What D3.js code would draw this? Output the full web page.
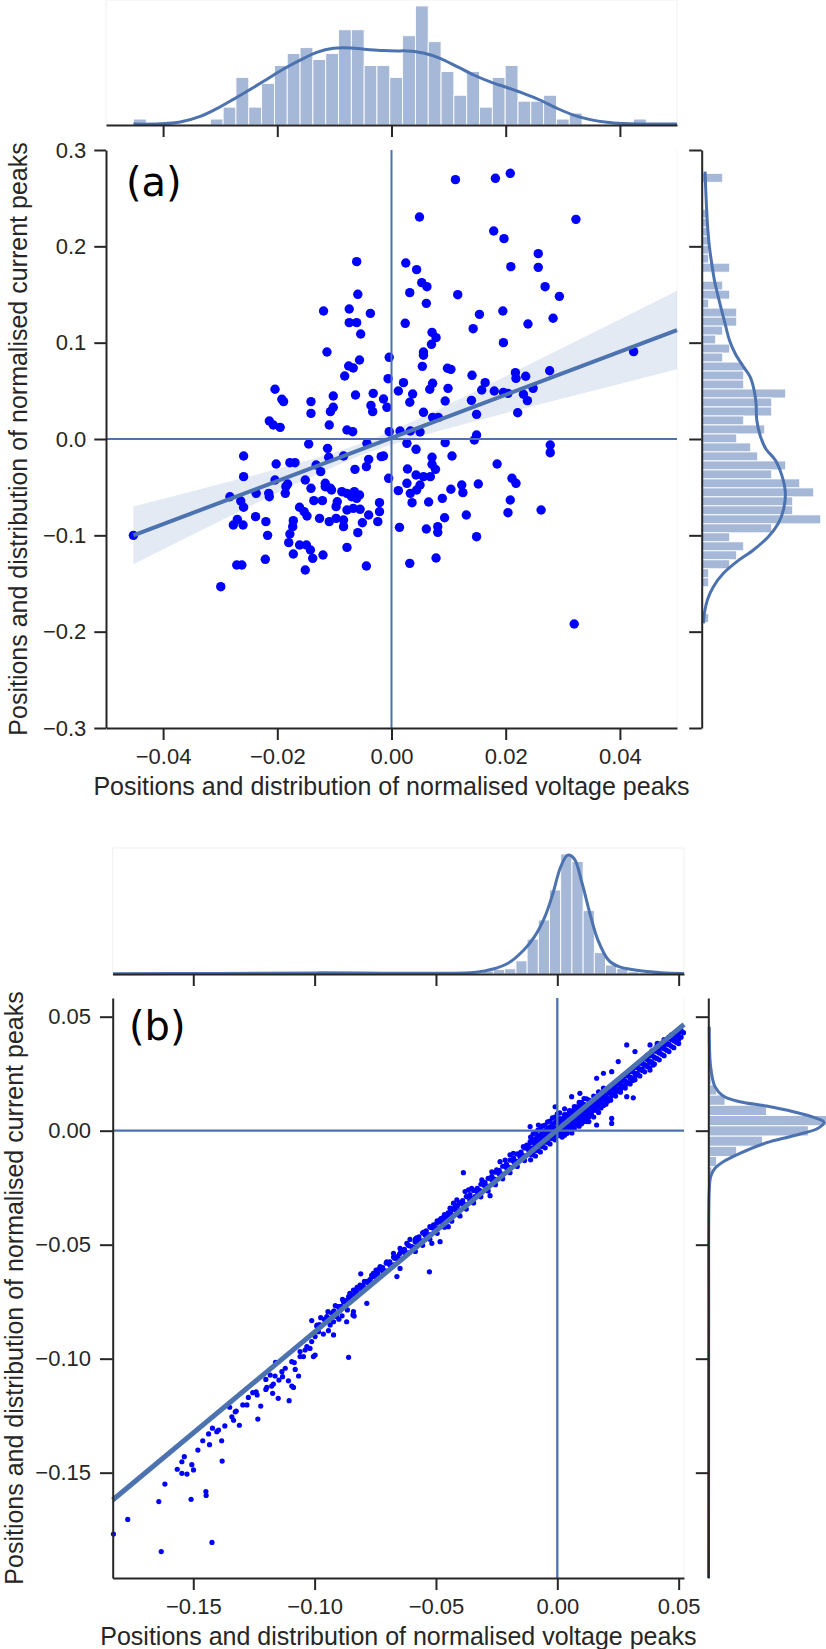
<!DOCTYPE html>
<html><head><meta charset="utf-8">
<script src="https://cdn.jsdelivr.net/npm/d3@7"></script>
<style>
body{margin:0;background:#fff;}
svg{display:block;}
</style></head><body>
<svg id="chart" width="826" height="1649"></svg>
<script>
// ===================== DATA: panel (a) =====================
const aXDomain = [-0.05, 0.05];
const aYDomain = [-0.3, 0.3];
const aXTicks = [-0.04, -0.02, 0.00, 0.02, 0.04];
const aYTicks = [-0.3, -0.2, -0.1, 0.0, 0.1, 0.2, 0.3];
const aPoints = [
 [-0.0061,0.1841],[-0.0059,0.1502],[-0.0119,0.1329],[-0.0074,0.1349],[-0.0037,0.1304],[-0.0074,0.1208],[-0.0061,0.1208],[-0.0054,0.1090],[-0.0113,0.0903],[-0.0004,0.0848],[-0.0056,0.0820],[-0.0075,0.0758],[-0.0067,0.0737],[-0.0082,0.0654],[-0.0006,0.0626],[-0.0204,0.0516],[-0.0192,0.0412],[-0.0189,0.0388],[-0.0141,0.0388],[-0.0102,0.0446],[-0.0063,0.0457],[-0.0032,0.0474],[-0.0014,0.0415],[-0.0008,0.0329],[-0.0141,0.0266],[-0.0107,0.0284],[-0.0102,0.0329],[-0.0036,0.0349],[-0.0033,0.0284],[-0.0214,0.0187],[-0.0207,0.0145],[-0.0195,0.0121],[-0.0109,0.0145],[-0.0078,0.0093],[-0.0068,0.0076],[-0.0004,0.0076],
 [0.0208,0.2758],[0.0182,0.2706],[0.0112,0.2692],[0.0049,0.2304],[0.0323,0.2280],[0.0179,0.2159],[0.0197,0.2080],[0.0257,0.1924],[0.0025,0.1827],[0.0044,0.1758],[0.0209,0.1789],[0.0257,0.1782],[0.0053,0.1623],[0.0062,0.1581],[0.0269,0.1581],[0.0032,0.1519],[0.0116,0.1498],[0.0294,0.1481],[0.0061,0.1408],[0.0154,0.1294],[0.0195,0.1329],[0.0024,0.1201],[0.0143,0.1145],[0.0239,0.1194],[0.0283,0.1253],[0.0071,0.1107],[0.0078,0.1052],[0.0070,0.0983],[0.0196,0.1000],[0.0056,0.0903],[0.0056,0.0869],[0.0054,0.0754],[0.0098,0.0734],[0.0104,0.0723],[0.0424,0.0907],[0.0141,0.0661],[0.0217,0.0689],[0.0218,0.0630],[0.0235,0.0651],[0.0277,0.0709],[0.0021,0.0585],[0.0072,0.0578],[0.0067,0.0516],[0.0099,0.0526],[0.0012,0.0498],[0.0037,0.0467],[0.0164,0.0585],[0.0158,0.0509],[0.0180,0.0498],[0.0196,0.0484],[0.0204,0.0474],[0.0231,0.0464],[0.0248,0.0526],[0.0032,0.0381],[0.0094,0.0394],[0.0140,0.0401],[0.0238,0.0398],[0.0056,0.0277],[0.0072,0.0225],[0.0082,0.0225],[0.0149,0.0256],[0.0221,0.0273],
 [0.0015,0.0083],[0.0033,0.0083],[0.0050,0.0073],[0.0149,0.0042],[0.0145,-0.0010],[0.0094,-0.0038],[0.0027,-0.0045],[0.0043,-0.0107],[0.0278,-0.0062],[0.0278,-0.0142],[0.0106,-0.0176],[0.0071,-0.0190],[0.0071,-0.0263],[0.0077,-0.0315],[0.0185,-0.0260],[0.0028,-0.0311],[0.0043,-0.0374],[0.0056,-0.0391],[0.0068,-0.0391],[0.0211,-0.0408],[0.0218,-0.0460],[0.0123,-0.0478],[0.0152,-0.0467],[0.0027,-0.0460],[0.0050,-0.0478],[0.0012,-0.0536],[0.0104,-0.0522],[0.0125,-0.0557],[0.0033,-0.0564],[0.0044,-0.0529],[0.0208,-0.0633],[0.0065,-0.0654],[0.0089,-0.0616],[0.0036,-0.0661],[0.0262,-0.0737],[0.0204,-0.0765],[0.0131,-0.0789],[0.0093,-0.0817],[0.0014,-0.0917],[0.0061,-0.0934],[0.0081,-0.0910],[0.0081,-0.0969],[0.0149,-0.1014],[0.0032,-0.1291],[0.0078,-0.1235],[0.0320,-0.1920],
 [-0.0145,-0.0052],[-0.0112,-0.0097],[-0.0043,-0.0045],[-0.0259,-0.0176],[-0.0110,-0.0190],[-0.0084,-0.0176],[-0.0040,-0.0211],[-0.0018,-0.0183],[-0.0014,-0.0176],[-0.0202,-0.0260],[-0.0178,-0.0246],[-0.0169,-0.0246],[-0.0132,-0.0270],[-0.0124,-0.0339],[-0.0044,-0.0287],[-0.0064,-0.0315],[-0.0259,-0.0391],[-0.0204,-0.0426],[-0.0182,-0.0467],[-0.0151,-0.0426],[-0.0141,-0.0512],[-0.0116,-0.0460],[-0.0107,-0.0512],[-0.0005,-0.0408],[-0.0283,-0.0599],[-0.0264,-0.0644],[-0.0259,-0.0709],[-0.0237,-0.0564],[-0.0215,-0.0564],[-0.0214,-0.0599],[-0.0186,-0.0564],[-0.0185,-0.0495],[-0.0161,-0.0709],[-0.0153,-0.0754],[-0.0148,-0.0799],[-0.0136,-0.0640],[-0.0121,-0.0640],[-0.0116,-0.0495],[-0.0105,-0.0529],[-0.0095,-0.0651],[-0.0087,-0.0547],[-0.0078,-0.0564],[-0.0070,-0.0599],[-0.0065,-0.0547],[-0.0061,-0.0616],[-0.0056,-0.0581],[-0.0055,-0.0730],[-0.0067,-0.0720],[-0.0078,-0.0737],[-0.0097,-0.0702],[-0.0040,-0.0789],[-0.0021,-0.0661],[-0.0021,-0.0754],[-0.0024,-0.0858],[-0.0051,-0.0869],[-0.0084,-0.0841],[-0.0097,-0.0824],[-0.0109,-0.0858],[-0.0126,-0.0824],[-0.0084,-0.0910],[-0.0059,-0.0972],[-0.0078,-0.1125],[-0.0238,-0.0806],[-0.0277,-0.0893],[-0.0270,-0.0834],[-0.0260,-0.0893],[-0.0220,-0.0858],[-0.0217,-0.1000],[-0.0172,-0.0848],[-0.0173,-0.0910],[-0.0178,-0.0986],[-0.0180,-0.1076],[-0.0172,-0.1194],[-0.0161,-0.1100],[-0.0149,-0.1100],[-0.0142,-0.1152],[-0.0138,-0.1239],[-0.0151,-0.1360],[-0.0120,-0.1204],[-0.0221,-0.1249],[-0.0271,-0.1308],[-0.0262,-0.1308],[-0.0299,-0.1533],[-0.0044,-0.1318],[-0.0452,-0.1000]
];
// regression line end points and confidence band
const aRegX = [-0.0452, 0.05];
const aRegY = [-0.1000, 0.1131];
const aCiX  = [-0.0452, -0.03, -0.015, -0.005, 0.005, 0.02, 0.035, 0.05];
const aCiLo = [-0.1300, -0.0851, -0.0419, -0.0160, 0.0029, 0.0268, 0.0496, 0.0724];
const aCiHi = [-0.0700, -0.0467, -0.0229, -0.0040, 0.0219, 0.0652, 0.1094, 0.1538];
// marginal histogram of x (counts)
const aXHistStart = -0.0452, aXHistWidth = 0.002245;
const aXHist = [1,0,0,0,0,0,1,3,8,3,7,10,12,13,11,12,16,16,10,10,8,15,20,14,9,5,9,3,8,10,4,4,5,1,2,0,0,0,0,1];
// marginal histogram of y (counts, listed from the top bin downwards)
const aYHistTop = 0.2758, aYHistWidth = 0.00933;
const aYHist = [3,0,0,0,1,1,1,1,1,1,4,0,3,4,1,5,5,3,2,4,3,6,6,6,12,10,10,6,9,5,7,8,12,10,14,16,13,13,17,10,4,6,5,4,1,1,0,0,0,1];
// marginal density curves (in count units)
const aKdeXv = [-0.0452,-0.0405,-0.0370,-0.0335,-0.0306,-0.0277,-0.0247,-0.0218,-0.0189,-0.0160,-0.0131,-0.0102,-0.0072,-0.0043,-0.0014,0.0015,0.0027,0.0056,0.0085,0.0115,0.0144,0.0173,0.0202,0.0231,0.0260,0.0290,0.0319,0.0348,0.0377,0.0406,0.0436,0.0500];
const aKdeXd = [0.15,0.2,0.5,1.45,2.75,4.3,6.0,7.7,9.4,10.9,12.2,12.9,12.95,12.7,12.5,12.45,12.45,12.1,11.2,9.8,8.4,7.25,6.3,5.3,4.2,2.8,1.65,0.9,0.45,0.25,0.18,0.15];
const aKdeYv = [0.2775,0.2515,0.2239,0.1996,0.1824,0.1651,0.1513,0.1373,0.1201,0.1028,0.0890,0.0751,0.0647,0.0509,0.0371,0.0197,0.0024,-0.0107,-0.0218,-0.0391,-0.0564,-0.0737,-0.0875,-0.1014,-0.1152,-0.1274,-0.1394,-0.1533,-0.1671,-0.1809,-0.1913];
const aKdeYd = [0.48,0.62,0.81,1.10,1.43,1.81,2.24,2.71,3.33,3.95,4.76,5.95,6.90,7.48,7.76,7.86,8.4,9.2,10.5,11.5,11.95,11.67,10.95,9.52,7.38,5.0,3.10,1.67,0.81,0.38,0.24];

// ===================== DATA: panel (b) =====================
const bXDomain = [-0.1832, 0.0522];
const bYDomain = [-0.1962, 0.0582];
const bXTicks = [-0.15, -0.10, -0.05, 0.00, 0.05];
const bYTicks = [-0.15, -0.10, -0.05, 0.00, 0.05];
const bPoints = [
 [-0.1829,-0.1769],[-0.1770,-0.1705],[-0.1632,-0.1846],[-0.1642,-0.1627],[-0.1617,-0.1550],[-0.1509,-0.1617],[-0.1448,-0.1583],[-0.1447,-0.1600],[-0.1423,-0.1806],[-0.1566,-0.1485],[-0.1547,-0.1503],[-0.1526,-0.1506],[-0.1499,-0.1488],[-0.1506,-0.1465],[-0.1547,-0.1452],[-0.1537,-0.1430],[-0.1481,-0.1401],[-0.1461,-0.1360],[-0.1433,-0.1377],[-0.1437,-0.1330],[-0.1421,-0.1305],[-0.1403,-0.1320],[-0.1396,-0.1313],[-0.1383,-0.1360],[-0.1381,-0.1449],[-0.1370,-0.1295],[-0.1350,-0.1213],[-0.1341,-0.1255],[-0.1334,-0.1270],[-0.1327,-0.1233],[-0.1323,-0.1230],[-0.1310,-0.1292],[-0.1296,-0.1203],[-0.1279,-0.1203],[-0.1234,-0.1265],[-0.1222,-0.1208],[-0.1273,-0.1170],[-0.1255,-0.1149],[-0.1241,-0.1145],[-0.1237,-0.1159],[-0.1201,-0.1135],[-0.1197,-0.1126],[-0.1177,-0.1120],[-0.1170,-0.1111],[-0.1201,-0.1091],[-0.1183,-0.1072],[-0.1163,-0.1076],[-0.1173,-0.1152],[-0.1150,-0.1174],[-0.1105,-0.1184],[-0.1147,-0.1094],[-0.1132,-0.1079],[-0.1135,-0.1057],[-0.1121,-0.1042],[-0.1108,-0.1097],[-0.1094,-0.1120],[-0.1087,-0.1126],[-0.1094,-0.1013],[-0.1084,-0.1017],[-0.1066,-0.1076],[-0.1080,-0.1047],[-0.1161,-0.1016],[-0.1060,-0.0991],[-0.1046,-0.0991],[-0.1060,-0.0969],[-0.1039,-0.0962],[-0.1032,-0.0947],[-0.1019,-0.0955],[-0.1005,-0.0991],[-0.0998,-0.0984],[-0.1012,-0.0925],[-0.0998,-0.0903],[-0.0984,-0.0882],[-0.0964,-0.0892],[-0.0943,-0.0877],[-0.1012,-0.0833],[-0.0991,-0.0857],[-0.0957,-0.0830],[-0.0936,-0.0852],[-0.0922,-0.0838],[-0.0922,-0.0896],[-0.0860,-0.0994],[-0.0910,-0.0815],[-0.0900,-0.0827],[-0.0887,-0.0812],[-0.0868,-0.0838],[-0.0842,-0.0808],[-0.0837,-0.0813],[-0.0865,-0.0786],
 [-0.0607,-0.0477],[-0.0620,-0.0494],[-0.0586,-0.0487],[-0.0648,-0.0516],[-0.0675,-0.0538],[-0.0659,-0.0552],[-0.0703,-0.0575],[-0.0689,-0.0589],[-0.0730,-0.0596],[-0.0716,-0.0611],[-0.0758,-0.0626],[-0.0747,-0.0611],[-0.0810,-0.0628],[-0.0785,-0.0662],[-0.0771,-0.0652],[-0.0813,-0.0677],[-0.0799,-0.0688],[-0.0840,-0.0699],[-0.0826,-0.0710],[-0.0860,-0.0728],[-0.0851,-0.0721],[-0.0881,-0.0750],[-0.0870,-0.0757],[-0.0902,-0.0772],[-0.0895,-0.0786],[-0.0922,-0.0794],[-0.0915,-0.0808],[-0.0936,-0.0823],[-0.0840,-0.0794],[-0.0785,-0.0757],[-0.0661,-0.0640],[-0.0648,-0.0604],
 [-0.098,-0.0850],[-0.095,-0.0815],[-0.092,-0.0790],[-0.089,-0.0770],[-0.087,-0.0745],[-0.085,-0.0735],[-0.083,-0.0705],[-0.080,-0.0680],[-0.078,-0.0660],[-0.076,-0.0640],[-0.074,-0.0625],[-0.072,-0.0600],[-0.069,-0.0575],[-0.067,-0.0560],[-0.065,-0.0540],[-0.063,-0.0520],[-0.061,-0.0505],
 [-0.0527,-0.0619],[-0.0566,-0.0494],[-0.0545,-0.0457],[-0.0531,-0.0472],[-0.0510,-0.0421],[-0.0497,-0.0406],[-0.0483,-0.0392],[-0.0462,-0.0377],[-0.0449,-0.0421],[-0.0483,-0.0487],[-0.0517,-0.0494],[-0.0442,-0.0340],[-0.0428,-0.0318],[-0.0414,-0.0303],[-0.0401,-0.0374],[-0.0380,-0.0267],[-0.0366,-0.0260],[-0.0353,-0.0253],[-0.0387,-0.0184],[-0.0339,-0.0289],[-0.0311,-0.0216],[-0.0298,-0.0228],[-0.0277,-0.0285],[-0.0270,-0.0180],[-0.0250,-0.0172],[-0.0236,-0.0136],[-0.0215,-0.0129],[-0.0195,-0.0106],[-0.0181,-0.0099],[-0.0167,-0.0136],[-0.0154,-0.0114],[-0.0140,-0.0070],[-0.0126,-0.0063],[-0.0112,-0.0048],[-0.0099,-0.0041],[-0.0085,-0.0034],[-0.0071,-0.0026],[-0.0112,0.0018],[-0.0078,0.0025],[-0.0058,-0.0012],[-0.0044,-0.0004],[-0.0030,0.0010],[-0.0020,-0.0030],[-0.0010,-0.0025],[-0.0005,0.0000],[0.0000,-0.0010],[0.0003,0.0018],[-0.0009,0.0105],
 [-0.058,-0.0470],[-0.057,-0.0495],[-0.055,-0.0445],[-0.054,-0.0462],[-0.052,-0.0425],[-0.050,-0.0430],[-0.047,-0.0380],[-0.046,-0.0398],[-0.044,-0.0355],[-0.043,-0.0372],[-0.041,-0.0328],[-0.039,-0.0318],[-0.037,-0.0290],[-0.036,-0.0305],[-0.034,-0.0262],[-0.032,-0.0262],[-0.030,-0.0230],[-0.029,-0.0245],[-0.027,-0.0205],[-0.026,-0.0212],[-0.024,-0.0178],[-0.023,-0.0190],[-0.021,-0.0150],[-0.020,-0.0160],[-0.018,-0.0125],[-0.017,-0.0135],[-0.015,-0.0098],[-0.014,-0.0110],[-0.012,-0.0075],[-0.011,-0.0085],[-0.009,-0.0050],[-0.008,-0.0062],[-0.006,-0.0030],[-0.005,-0.0040],[-0.003,-0.0008],[-0.002,-0.0018],
 [-0.099,-0.0853],[-0.096,-0.0827],[-0.093,-0.0800],[-0.090,-0.0773],[-0.087,-0.0747],[-0.084,-0.0720],[-0.081,-0.0694],[-0.078,-0.0667],[-0.075,-0.0640],[-0.072,-0.0614],[-0.069,-0.0587],[-0.066,-0.0561],[-0.063,-0.0534],[-0.060,-0.0508],[-0.057,-0.0481],[-0.054,-0.0454],[-0.051,-0.0428],[-0.048,-0.0401],[-0.045,-0.0375],[-0.042,-0.0348],[-0.039,-0.0322],[-0.036,-0.0295],[-0.033,-0.0268],[-0.030,-0.0242],[-0.027,-0.0215],[-0.024,-0.0189],[-0.021,-0.0162],[-0.018,-0.0135],[-0.015,-0.0109],[-0.012,-0.0082],
 [-0.0975,-0.0820],[-0.0945,-0.0794],[-0.0915,-0.0767],[-0.0885,-0.0740],[-0.0855,-0.0714],[-0.0825,-0.0687],[-0.0795,-0.0661],[-0.0765,-0.0634],[-0.0735,-0.0607],[-0.0705,-0.0581],[-0.0675,-0.0554],[-0.0645,-0.0528],[-0.0615,-0.0501],[-0.0585,-0.0475],[-0.0555,-0.0448],[-0.0525,-0.0421],[-0.0495,-0.0395],[-0.0465,-0.0368],[-0.0435,-0.0342],[-0.0405,-0.0315],[-0.0375,-0.0289],[-0.0345,-0.0262],[-0.0315,-0.0235],[-0.0285,-0.0209],[-0.0255,-0.0182],[-0.0225,-0.0156],[-0.0195,-0.0129],[-0.0165,-0.0102],[-0.0135,-0.0076],[-0.0105,-0.0049],
 [-0.0975,-0.0855],[-0.0945,-0.0829],[-0.0915,-0.0802],[-0.0885,-0.0775],[-0.0855,-0.0749],[-0.0825,-0.0722],[-0.0795,-0.0696],[-0.0765,-0.0669],[-0.0735,-0.0642],[-0.0705,-0.0616],[-0.0675,-0.0589],[-0.0645,-0.0563],[-0.0615,-0.0536],
 [-0.0585,-0.0510],[-0.0555,-0.0483],[-0.0525,-0.0456],[-0.0495,-0.0430],[-0.0465,-0.0403],[-0.0435,-0.0377],[-0.0405,-0.0350],[-0.0375,-0.0324],[-0.0345,-0.0297],[-0.0315,-0.0270],[-0.0285,-0.0244],[-0.0255,-0.0217],[-0.0225,-0.0191],[-0.0195,-0.0164],[-0.0165,-0.0137],[-0.0135,-0.0111],[-0.0105,-0.0084],
 [-0.0585,-0.0530],[-0.0555,-0.0503],[-0.0525,-0.0476],[-0.0495,-0.0450],[-0.0465,-0.0423],[-0.0435,-0.0397],[-0.0405,-0.0370],[-0.0375,-0.0344],[-0.0345,-0.0317],[-0.0315,-0.0290],[-0.0285,-0.0264],[-0.0255,-0.0237],[-0.0225,-0.0211],[-0.0195,-0.0184],[-0.0165,-0.0157],[-0.0135,-0.0131],[-0.0105,-0.0104],
 [-0.057,-0.0466],[-0.054,-0.0439],[-0.051,-0.0413],[-0.048,-0.0386],[-0.045,-0.0360],[-0.042,-0.0333],[-0.039,-0.0307],[-0.036,-0.0280],[-0.033,-0.0253],[-0.030,-0.0227],[-0.027,-0.0200],[-0.024,-0.0174],[-0.021,-0.0147],[-0.018,-0.0120],[-0.015,-0.0094],[-0.012,-0.0067],
 [-0.010,-0.0105],[-0.010,-0.0075],[-0.010,-0.0045],[-0.010,-0.0015],[-0.008,-0.0087],[-0.008,-0.0057],[-0.008,-0.0027],[-0.008,0.0003],[-0.006,-0.0069],[-0.006,-0.0039],[-0.006,-0.0009],[-0.006,0.0021],[-0.004,-0.0051],[-0.004,-0.0021],[-0.004,0.0009],[-0.004,0.0039],[-0.002,-0.0034],[-0.002,-0.0004],[-0.002,0.0026],[-0.002,0.0056],[0.000,-0.0016],[0.000,0.0014],[0.000,0.0044],[0.000,0.0074],
 [-0.011,-0.0128],[-0.011,-0.0103],[-0.011,-0.0078],[-0.011,-0.0053],[-0.011,-0.0028],[-0.009,-0.0111],[-0.009,-0.0086],[-0.009,-0.0061],[-0.009,-0.0036],[-0.009,-0.0011],[-0.007,-0.0093],[-0.007,-0.0068],[-0.007,-0.0043],[-0.007,-0.0018],[-0.007,0.0007],[-0.005,-0.0075],[-0.005,-0.0050],[-0.005,-0.0025],[-0.005,0.0000],[-0.005,0.0025],[-0.003,-0.0058],[-0.003,-0.0033],[-0.003,-0.0008],[-0.003,0.0017],[-0.003,0.0042],[-0.001,-0.0040],[-0.001,-0.0015],[-0.001,0.0010],[-0.001,0.0035],[-0.001,0.0060],
 [0.001,-0.0022],[0.001,0.0003],[0.001,0.0028],[0.001,0.0053],[0.001,0.0078],[0.003,-0.0004],[0.003,0.0021],[0.003,0.0046],[0.003,0.0071],[0.003,0.0096],[0.005,0.0013],[0.005,0.0038],[0.005,0.0063],[0.005,0.0088],[0.007,0.0031],[0.007,0.0056],[0.007,0.0081],[0.007,0.0106],[0.009,0.0049],[0.009,0.0074],[0.009,0.0099],[0.009,0.0124],[0.011,0.0066],[0.011,0.0091],[0.011,0.0116],[0.011,0.0141],[0.013,0.0084],[0.013,0.0109],[0.013,0.0134],[0.015,0.0102],[0.015,0.0127],[0.015,0.0152],[0.017,0.0120],[0.017,0.0145],[0.017,0.0170],[0.019,0.0137],[0.019,0.0162],[0.019,0.0187],
 [0.002,-0.0028],[0.002,-0.0003],[0.002,0.0022],[0.002,0.0052],[0.004,-0.0011],[0.004,0.0014],[0.004,0.0039],[0.004,0.0069],[0.006,0.0007],[0.006,0.0032],[0.006,0.0057],[0.006,0.0087],[0.008,0.0025],[0.008,0.0050],[0.008,0.0075],[0.008,0.0105],[0.010,0.0043],[0.010,0.0068],[0.010,0.0093],[0.010,0.0123],[0.012,0.0060],[0.012,0.0085],[0.012,0.0110],[0.012,0.0140],[0.014,0.0078],[0.014,0.0103],[0.014,0.0128],[0.016,0.0096],[0.016,0.0121],[0.016,0.0146],[0.018,0.0113],[0.018,0.0138],[0.018,0.0163],
 [0.020,0.0116],[0.020,0.0146],[0.020,0.0176],[0.022,0.0134],[0.022,0.0164],[0.022,0.0194],[0.024,0.0152],[0.024,0.0182],[0.024,0.0212],[0.026,0.0169],[0.026,0.0199],[0.026,0.0229],[0.028,0.0187],[0.028,0.0217],[0.028,0.0247],[0.030,0.0205],[0.030,0.0235],[0.030,0.0265],[0.032,0.0223],[0.032,0.0253],[0.032,0.0283],[0.034,0.0240],[0.034,0.0270],[0.034,0.0300],[0.036,0.0258],[0.036,0.0288],[0.036,0.0318],[0.038,0.0276],[0.038,0.0306],[0.038,0.0336],[0.040,0.0293],[0.040,0.0323],[0.040,0.0353],[0.042,0.0311],[0.042,0.0341],[0.042,0.0371],[0.044,0.0329],[0.044,0.0359],[0.044,0.0389],[0.046,0.0347],[0.046,0.0377],[0.046,0.0407],[0.048,0.0364],[0.048,0.0394],[0.048,0.0424],[0.050,0.0382],[0.050,0.0412],[0.050,0.0442],
 [0.021,0.0140],[0.021,0.0170],[0.023,0.0158],[0.023,0.0188],[0.025,0.0176],[0.025,0.0206],[0.027,0.0193],[0.027,0.0223],[0.029,0.0211],[0.029,0.0241],[0.031,0.0229],[0.031,0.0259],[0.033,0.0246],[0.033,0.0276],[0.035,0.0264],[0.035,0.0294],[0.037,0.0282],[0.037,0.0312],[0.039,0.0300],[0.039,0.0330],[0.041,0.0317],[0.041,0.0347],[0.043,0.0335],[0.043,0.0365],[0.045,0.0353],[0.045,0.0383],[0.047,0.0370],[0.047,0.0400],[0.049,0.0388],[0.049,0.0418],
 [0.001,0.002],[0.002,0.001],[0.003,0.003],[0.004,0.002],[0.005,0.004],[0.006,0.005],[0.002,-0.001],[0.003,0.000],[0.004,-0.001],[0.006,0.002],[0.007,0.004],[0.008,0.006],[0.009,0.007],[0.010,0.008],[0.007,0.001],[0.008,0.003],[0.009,0.004],[0.010,0.005],[0.011,0.009],[0.012,0.010],[0.011,0.006],[0.012,0.007],[0.013,0.009],[0.014,0.011],[0.013,0.006],[0.015,0.012],[0.015,0.009],[0.016,0.013],[0.017,0.011],[0.018,0.015],[0.018,0.012],[0.019,0.014],[0.020,0.016],[0.021,0.017],[0.020,0.013],[0.022,0.018],[0.022,0.015],[0.023,0.019],[0.024,0.020],[0.024,0.017],[0.025,0.022],[0.026,0.021],[0.026,0.018],[0.027,0.023],[0.028,0.024],[0.028,0.020],[0.029,0.025],[0.030,0.026],[0.030,0.023],[0.031,0.027],[0.032,0.028],[0.032,0.024],[0.033,0.029],[0.034,0.030],[0.034,0.027],[0.035,0.031],[0.036,0.032],[0.037,0.033],[0.038,0.033],[0.039,0.035],[0.040,0.035],[0.041,0.037],[0.042,0.038],[0.043,0.038],[0.044,0.040],[0.045,0.040],[0.046,0.041],[0.047,0.042],[0.048,0.042],[0.049,0.043],[0.050,0.043],[0.051,0.044],[0.051,0.041],[0.050,0.040],[0.052,0.043],
 [0.001,0.004],[0.002,0.005],[0.003,0.006],[0.004,0.007],[0.005,0.006],[0.006,0.008],[0.004,0.001],[0.005,0.000],[0.006,-0.001],[0.003,-0.002],[0.001,-0.002],[-0.001,0.001],[-0.002,0.002],[0.007,0.009],[0.008,0.010],[0.009,0.010],[0.010,0.011],[0.009,0.002],[0.010,0.003],[0.011,0.004],[0.012,0.005],[0.013,0.004],[0.014,0.007],[0.015,0.006],[0.016,0.009],[0.017,0.008],[0.018,0.010],[0.019,0.011],[0.020,0.012],[0.021,0.013],[0.016,0.011],[0.017,0.014],[0.019,0.016],[0.023,0.016],[0.025,0.018],[0.027,0.019],[0.029,0.021],[0.031,0.022],[0.033,0.025],[0.035,0.027],[0.036,0.029],[0.038,0.030],[0.040,0.032],[0.042,0.035],[0.044,0.037],[0.046,0.038],[0.048,0.040],
 [0.0286,0.0376],[0.0251,0.0303],[0.0190,0.0252],[0.0162,0.0230],[0.0224,0.0259],[0.0320,0.0347],[0.0382,0.0376],[0.0412,0.0383],[0.0059,0.0149],[0.0093,0.0164],[0.0313,0.0144],[0.0224,0.0054],[0.0224,0.0032],[0.0162,0.0025],[0.0121,0.0040],[0.0286,0.0149],[0.0382,0.0266],[0.0395,0.0288]
];
const bRegX = [-0.1832, 0.0522];
const bRegY = [-0.1620, 0.0466];
const bXHistStart = -0.1832, bXHistWidth = 0.004615;
const bXHist = [2,1,0,1,2,2,3,3,3,3,3,3,4,3,4,4,4,4,4,4,4,3,3,3,3,3,3,3,3,4,4,5,6,8,12,14,35,93,144,224,320,300,169,57,24,15,6,4,2,1,1];
const bYHistStart = -0.1864, bYHistWidth = 0.00449; // listed from the bottom bin upwards
const bYHist = [1,1,1,1,1,1,2,1,2,2,2,2,2,2,2,2,2,2,2,2,2,2,2,2,2,2,2,2,2,2,2,2,3,3,3,4,6,10,23,78,149,275,330,160,46,23,8,5,4,3,2,2];
const bKdeXv = [-0.1831,-0.1400,-0.0988,-0.0600,-0.0334,-0.0269,-0.0203,-0.0138,-0.0094,-0.0051,-0.0018,0.0014,0.0043,0.0069,0.0102,0.0134,0.0167,0.0211,0.0254,0.0320,0.0429,0.0522];
const bKdeXd = [1.0,1.5,3.0,2.0,5,12.5,28.5,64,99.5,153,215,286,317,308,242,162,91,37,19.5,10.7,3.5,1.5];
const bKdeYv = [0.0456,0.0281,0.0193,0.0152,0.0127,0.0108,0.0083,0.0054,0.0037,0.0011,-0.0022,-0.0053,-0.0099,-0.0136,-0.0165,-0.0202,-0.0260,-0.0830,-0.1400,-0.1962];
const bKdeYd = [2.7,6.4,18.3,41,87,160,234,298,318,302,234,160,87,41,18.3,6.4,2.7,1,0.8,0.5];

const xLabelText = "Positions and distribution of normalised voltage peaks";
const yLabelText = "Positions and distribution of normalised current peaks";

// ===================== LAYOUT / STYLE =====================
const INK = "#262626", BLUE = "#4c72b0", DOT = "#0000ff";
const FONT = "'Liberation Sans', Arial, Helvetica, sans-serif";
const svg = d3.select("#chart");
svg.append("rect").attr("width", 826).attr("height", 1649).attr("fill", "#fff");

function drawPanel(L, D) {
  const g = svg.append("g");
  const xs = d3.scaleLinear().domain(D.xDomain).range([L.left, L.right]);
  const ys = d3.scaleLinear().domain(D.yDomain).range([L.bottom, L.top]);
  const hTop = d3.scaleLinear().domain([0, d3.max(D.xHist) * 1.05]).range([L.topBase, L.topBase - L.marg]);
  const hRight = d3.scaleLinear().domain([0, d3.max(D.yHist) * 1.05]).range([L.rightBase, L.rightBase + L.marg]);

  // faint axes frames (as in the rendered figure)
  g.append("rect").attr("x", L.left).attr("y", L.topBase - L.marg).attr("width", L.right - L.left)
    .attr("height", L.marg).attr("fill", "none").attr("stroke", "#f1f1f1").attr("stroke-width", 1);
  g.append("line").attr("x1", L.right).attr("x2", L.right).attr("y1", L.top).attr("y2", L.bottom)
    .attr("stroke", "#f4f4f4").attr("stroke-width", 1);

  // ---- top marginal histogram
  const topBars = D.xHist.map((c, i) => ({c, x0: D.xHistStart + i * D.xHistWidth, x1: D.xHistStart + (i + 1) * D.xHistWidth})).filter(d => d.c > 0);
  g.append("g").selectAll("rect").data(topBars).join("rect")
    .attr("x", d => xs(d.x0)).attr("width", d => xs(d.x1) - xs(d.x0))
    .attr("y", d => hTop(d.c)).attr("height", d => hTop(0) - hTop(d.c))
    .attr("fill", BLUE).attr("fill-opacity", 0.5).attr("stroke", "#fff").attr("stroke-width", 0.9);
  const kdeTop = D.kdeXv.map((v, i) => [v, D.kdeXd[i]]);
  g.append("path").datum(kdeTop)
    .attr("d", d3.line().x(d => xs(d[0])).y(d => hTop(d[1])).curve(d3.curveCatmullRom))
    .attr("fill", "none").attr("stroke", BLUE).attr("stroke-width", 3);
  const axTop = g.append("g").attr("transform", `translate(0,${L.topBase})`)
    .call(d3.axisBottom(xs).tickValues(D.xTicks).tickFormat("").tickSize(12).tickSizeOuter(0));

  // ---- right marginal histogram
  const rightBars = D.yHist.map((c, i) => {
    const y0 = D.yBin(i), y1 = y0 + D.yHistWidth; return {c, y0, y1};
  }).filter(d => d.c > 0);
  g.append("g").selectAll("rect").data(rightBars).join("rect")
    .attr("y", d => ys(d.y1)).attr("height", d => ys(d.y0) - ys(d.y1))
    .attr("x", hRight(0)).attr("width", d => hRight(d.c) - hRight(0))
    .attr("fill", BLUE).attr("fill-opacity", 0.5).attr("stroke", "#fff").attr("stroke-width", 0.9);
  const kdeRight = D.kdeYv.map((v, i) => [v, D.kdeYd[i]]);
  g.append("path").datum(kdeRight)
    .attr("d", d3.line().y(d => ys(d[0])).x(d => hRight(d[1])).curve(d3.curveCatmullRom))
    .attr("fill", "none").attr("stroke", BLUE).attr("stroke-width", 3);
  const axRight = g.append("g").attr("transform", `translate(${L.rightBase},0)`)
    .call(d3.axisLeft(ys).tickValues(D.yTicks).tickFormat("").tickSize(12.5).tickSizeOuter(0));

  // ---- main joint plot
  if (D.ci) {
    const band = D.ci.x.map((v, i) => [v, D.ci.lo[i], D.ci.hi[i]]);
    g.append("path").datum(band)
      .attr("d", d3.area().x(d => xs(d[0])).y0(d => ys(d[1])).y1(d => ys(d[2])).curve(d3.curveMonotoneX))
      .attr("fill", BLUE).attr("fill-opacity", 0.15);
  }
  g.append("g").selectAll("circle").data(D.points).join("circle")
    .attr("cx", d => xs(d[0])).attr("cy", d => ys(d[1])).attr("r", L.r).attr("fill", DOT);
  // reference lines at zero
  g.append("line").attr("x1", xs(0)).attr("x2", xs(0)).attr("y1", L.top).attr("y2", L.bottom)
    .attr("stroke", BLUE).attr("stroke-width", L.zw);
  g.append("line").attr("x1", L.left).attr("x2", L.right).attr("y1", ys(0)).attr("y2", ys(0))
    .attr("stroke", BLUE).attr("stroke-width", L.zw);
  // regression line
  g.append("line").attr("x1", xs(D.regX[0])).attr("y1", ys(D.regY[0]))
    .attr("x2", xs(D.regX[1])).attr("y2", ys(D.regY[1]))
    .attr("stroke", BLUE).attr("stroke-width", L.rw);

  const axX = g.append("g").attr("transform", `translate(0,${L.bottom})`)
    .call(d3.axisBottom(xs).tickValues(D.xTicks).tickFormat(d3.format(D.xFmt)).tickSize(12).tickPadding(8).tickSizeOuter(0));
  const axY = g.append("g").attr("transform", `translate(${L.left},0)`)
    .call(d3.axisLeft(ys).tickValues(D.yTicks).tickFormat(d3.format(D.yFmt)).tickSize(L.left - L.yTickEnd).tickPadding(L.yPad).tickSizeOuter(0));

  [axTop, axRight, axX, axY].forEach(a => {
    a.select(".domain").attr("stroke", INK).attr("stroke-width", 2);
    a.selectAll(".tick line").attr("stroke", INK).attr("stroke-width", 2);
    a.selectAll(".tick text").attr("fill", INK).style("font-family", FONT).style("font-size", "22px");
  });

  // axis labels
  g.append("text").attr("x", (L.left + L.right) / 2).attr("y", L.xLabelY)
    .attr("text-anchor", "middle").attr("fill", INK)
    .style("font-family", FONT).style("font-size", "25px").text(xLabelText);
  g.append("text").attr("transform", `translate(${L.yLabelX},${(L.top + L.bottom) / 2}) rotate(-90)`)
    .attr("text-anchor", "middle").attr("fill", INK)
    .style("font-family", FONT).style("font-size", "25px").text(yLabelText);
  // panel letter
  g.append("text").attr("x", L.tagX).attr("y", L.tagY).attr("fill", "#000")
    .style("font-family", "'DejaVu Sans', Verdana, sans-serif").style("font-size", "40px").text(D.tag);
}

drawPanel(
  {left:106, right:677, top:150, bottom:728, topBase:125, rightBase:701.7, marg:125,
   r:4.7, zw:2, rw:4, yTickEnd:94.3, yPad:8, xLabelY:795, yLabelX:26.5, tagX:126, tagY:196},
  {xDomain:aXDomain, yDomain:aYDomain, xTicks:aXTicks, yTicks:aYTicks, xFmt:".2f", yFmt:".1f",
   points:aPoints, regX:aRegX, regY:aRegY, ci:{x:aCiX, lo:aCiLo, hi:aCiHi},
   xHist:aXHist, xHistStart:aXHistStart, xHistWidth:aXHistWidth,
   yHist:aYHist, yHistWidth:aYHistWidth, yBin: i => aYHistTop - (i + 1) * aYHistWidth,
   kdeXv:aKdeXv, kdeXd:aKdeXd, kdeYv:aKdeYv, kdeYd:aKdeYd, tag:"(a)"}
);

drawPanel(
  {left:112.7, right:684, top:998, bottom:1578, topBase:974, rightBase:708.3, marg:126,
   r:2.6, zw:2.3, rw:5, yTickEnd:100, yPad:9, xLabelY:1645, yLabelX:22.5, tagX:129, tagY:1040},
  {xDomain:bXDomain, yDomain:bYDomain, xTicks:bXTicks, yTicks:bYTicks, xFmt:".2f", yFmt:".2f",
   points:bPoints, regX:bRegX, regY:bRegY, ci:null,
   xHist:bXHist, xHistStart:bXHistStart, xHistWidth:bXHistWidth,
   yHist:bYHist, yHistWidth:bYHistWidth, yBin: i => bYHistStart + i * bYHistWidth,
   kdeXv:bKdeXv, kdeXd:bKdeXd, kdeYv:bKdeYv, kdeYd:bKdeYd, tag:"(b)"}
);
</script></body></html>
